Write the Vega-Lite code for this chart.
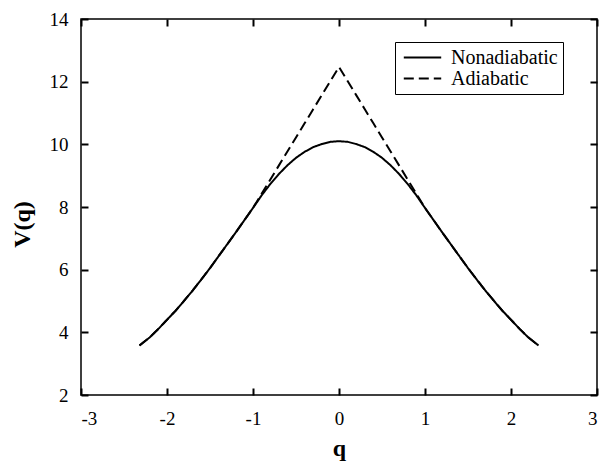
{
  "$schema": "https://vega.github.io/schema/vega-lite/v6.json",
  "width": 516,
  "height": 376,
  "autosize": "none",
  "padding": {"left": 81, "top": 19, "right": 4, "bottom": 66},
  "background": "white",
  "config": {
    "font": "Liberation Serif",
    "view": {"stroke": "black", "strokeWidth": 1.5},
    "axis": {
      "grid": false,
      "domain": false,
      "tickColor": "black",
      "tickWidth": 2,
      "tickSize": 7,
      "labelColor": "black",
      "labelFont": "Liberation Serif",
      "labelFontSize": 19,
      "titleColor": "black",
      "titleFont": "Liberation Serif",
      "titleFontSize": 24,
      "titleFontWeight": "bold"
    }
  },
  "data": {
    "values": [
      {"series": "Nonadiabatic", "q": -2.32, "V": 3.58},
      {"series": "Nonadiabatic", "q": -2.2, "V": 3.84},
      {"series": "Nonadiabatic", "q": -2.1, "V": 4.11},
      {"series": "Nonadiabatic", "q": -2.0, "V": 4.40},
      {"series": "Nonadiabatic", "q": -1.9, "V": 4.69},
      {"series": "Nonadiabatic", "q": -1.8, "V": 5.01},
      {"series": "Nonadiabatic", "q": -1.7, "V": 5.34},
      {"series": "Nonadiabatic", "q": -1.6, "V": 5.69},
      {"series": "Nonadiabatic", "q": -1.5, "V": 6.05},
      {"series": "Nonadiabatic", "q": -1.4, "V": 6.43},
      {"series": "Nonadiabatic", "q": -1.3, "V": 6.81},
      {"series": "Nonadiabatic", "q": -1.2, "V": 7.19},
      {"series": "Nonadiabatic", "q": -1.1, "V": 7.58},
      {"series": "Nonadiabatic", "q": -1.0, "V": 7.97},
      {"series": "Nonadiabatic", "q": -0.9, "V": 8.37},
      {"series": "Nonadiabatic", "q": -0.8, "V": 8.73},
      {"series": "Nonadiabatic", "q": -0.7, "V": 9.05},
      {"series": "Nonadiabatic", "q": -0.6, "V": 9.33},
      {"series": "Nonadiabatic", "q": -0.5, "V": 9.57},
      {"series": "Nonadiabatic", "q": -0.4, "V": 9.76},
      {"series": "Nonadiabatic", "q": -0.3, "V": 9.91},
      {"series": "Nonadiabatic", "q": -0.2, "V": 10.01},
      {"series": "Nonadiabatic", "q": -0.1, "V": 10.08},
      {"series": "Nonadiabatic", "q": 0.0, "V": 10.10},
      {"series": "Nonadiabatic", "q": 0.1, "V": 10.08},
      {"series": "Nonadiabatic", "q": 0.2, "V": 10.01},
      {"series": "Nonadiabatic", "q": 0.3, "V": 9.91},
      {"series": "Nonadiabatic", "q": 0.4, "V": 9.76},
      {"series": "Nonadiabatic", "q": 0.5, "V": 9.57},
      {"series": "Nonadiabatic", "q": 0.6, "V": 9.33},
      {"series": "Nonadiabatic", "q": 0.7, "V": 9.05},
      {"series": "Nonadiabatic", "q": 0.8, "V": 8.73},
      {"series": "Nonadiabatic", "q": 0.9, "V": 8.37},
      {"series": "Nonadiabatic", "q": 1.0, "V": 7.97},
      {"series": "Nonadiabatic", "q": 1.1, "V": 7.58},
      {"series": "Nonadiabatic", "q": 1.2, "V": 7.19},
      {"series": "Nonadiabatic", "q": 1.3, "V": 6.81},
      {"series": "Nonadiabatic", "q": 1.4, "V": 6.43},
      {"series": "Nonadiabatic", "q": 1.5, "V": 6.05},
      {"series": "Nonadiabatic", "q": 1.6, "V": 5.69},
      {"series": "Nonadiabatic", "q": 1.7, "V": 5.34},
      {"series": "Nonadiabatic", "q": 1.8, "V": 5.01},
      {"series": "Nonadiabatic", "q": 1.9, "V": 4.69},
      {"series": "Nonadiabatic", "q": 2.0, "V": 4.40},
      {"series": "Nonadiabatic", "q": 2.1, "V": 4.11},
      {"series": "Nonadiabatic", "q": 2.2, "V": 3.84},
      {"series": "Nonadiabatic", "q": 2.32, "V": 3.58},
      {"series": "Adiabatic", "q": -2.32, "V": 3.58},
      {"series": "Adiabatic", "q": -2.2, "V": 3.84},
      {"series": "Adiabatic", "q": -2.1, "V": 4.11},
      {"series": "Adiabatic", "q": -2.0, "V": 4.40},
      {"series": "Adiabatic", "q": -1.9, "V": 4.69},
      {"series": "Adiabatic", "q": -1.8, "V": 5.01},
      {"series": "Adiabatic", "q": -1.7, "V": 5.34},
      {"series": "Adiabatic", "q": -1.6, "V": 5.69},
      {"series": "Adiabatic", "q": -1.5, "V": 6.05},
      {"series": "Adiabatic", "q": -1.4, "V": 6.43},
      {"series": "Adiabatic", "q": -1.3, "V": 6.81},
      {"series": "Adiabatic", "q": -1.2, "V": 7.19},
      {"series": "Adiabatic", "q": -1.1, "V": 7.58},
      {"series": "Adiabatic", "q": -1.0, "V": 7.97},
      {"series": "Adiabatic", "q": -0.9, "V": 8.42},
      {"series": "Adiabatic", "q": -0.8, "V": 8.87},
      {"series": "Adiabatic", "q": -0.7, "V": 9.32},
      {"series": "Adiabatic", "q": -0.6, "V": 9.77},
      {"series": "Adiabatic", "q": -0.5, "V": 10.22},
      {"series": "Adiabatic", "q": -0.4, "V": 10.67},
      {"series": "Adiabatic", "q": -0.3, "V": 11.12},
      {"series": "Adiabatic", "q": -0.2, "V": 11.57},
      {"series": "Adiabatic", "q": -0.1, "V": 12.02},
      {"series": "Adiabatic", "q": 0.0, "V": 12.47},
      {"series": "Adiabatic", "q": 0.1, "V": 12.02},
      {"series": "Adiabatic", "q": 0.2, "V": 11.57},
      {"series": "Adiabatic", "q": 0.3, "V": 11.12},
      {"series": "Adiabatic", "q": 0.4, "V": 10.67},
      {"series": "Adiabatic", "q": 0.5, "V": 10.22},
      {"series": "Adiabatic", "q": 0.6, "V": 9.77},
      {"series": "Adiabatic", "q": 0.7, "V": 9.32},
      {"series": "Adiabatic", "q": 0.8, "V": 8.87},
      {"series": "Adiabatic", "q": 0.9, "V": 8.42},
      {"series": "Adiabatic", "q": 1.0, "V": 7.97},
      {"series": "Adiabatic", "q": 1.1, "V": 7.58},
      {"series": "Adiabatic", "q": 1.2, "V": 7.19},
      {"series": "Adiabatic", "q": 1.3, "V": 6.81},
      {"series": "Adiabatic", "q": 1.4, "V": 6.43},
      {"series": "Adiabatic", "q": 1.5, "V": 6.05},
      {"series": "Adiabatic", "q": 1.6, "V": 5.69},
      {"series": "Adiabatic", "q": 1.7, "V": 5.34},
      {"series": "Adiabatic", "q": 1.8, "V": 5.01},
      {"series": "Adiabatic", "q": 1.9, "V": 4.69},
      {"series": "Adiabatic", "q": 2.0, "V": 4.40},
      {"series": "Adiabatic", "q": 2.1, "V": 4.11},
      {"series": "Adiabatic", "q": 2.2, "V": 3.84},
      {"series": "Adiabatic", "q": 2.32, "V": 3.58}
    ]
  },
  "layer": [
    {
      "mark": {"type": "line", "color": "black", "strokeWidth": 2},
      "encoding": {
        "x": {
          "field": "q", "type": "quantitative",
          "scale": {"domain": [-3, 3], "nice": false, "zero": false},
          "axis": {
            "orient": "bottom",
            "values": [-3, -2, -1, 0, 1, 2, 3],
            "labelExpr": "datum.value < 0 ? '-' + abs(datum.value) : '' + datum.value",
            "ticks": false,
            "tickSize": 0,
            "labelPadding": 14,
            "title": "q",
            "titleY": 60,
            "titleBaseline": "alphabetic"
          }
        },
        "y": {
          "field": "V", "type": "quantitative",
          "scale": {"domain": [2, 14], "nice": false, "zero": false},
          "axis": {
            "orient": "left",
            "values": [2, 4, 6, 8, 10, 12, 14],
            "ticks": false,
            "tickSize": 0,
            "labelPadding": 13,
            "title": "V(q)",
            "titleX": -59,
            "titleY": 205,
            "titleAngle": -90,
            "titleAlign": "center",
            "titleBaseline": "middle"
          }
        },
        "strokeDash": {
          "field": "series", "type": "nominal",
          "scale": {"domain": ["Nonadiabatic", "Adiabatic"], "range": [[1, 0], [10, 5]]},
          "legend": {
            "title": null,
            "orient": "none",
            "legendX": 314,
            "legendY": 23,
            "direction": "vertical",
            "fillColor": "white",
            "strokeColor": "black",
            "padding": 5,
            "rowPadding": 0,
            "symbolType": "M-2,0H2",
            "symbolSize": 350,
            "symbolOffset": 12,
            "symbolStrokeWidth": 2,
            "symbolStrokeColor": "black",
            "symbolFillColor": "transparent",
            "labelOffset": 18,
            "labelFont": "Liberation Serif",
            "labelFontSize": 20,
            "labelColor": "black"
          }
        }
      }
    },
    {
      "mark": {"type": "line", "opacity": 0},
      "encoding": {
        "x": {
          "field": "q", "type": "quantitative",
          "axis": {"orient": "top", "offset": -376, "values": [-3, -2, -1, 0, 1, 2, 3], "labels": false, "title": null}
        },
        "y": {
          "field": "V", "type": "quantitative",
          "axis": {"orient": "right", "offset": -516, "values": [2, 4, 6, 8, 10, 12, 14], "labels": false, "title": null}
        },
        "detail": {"field": "series"}
      }
    },
    {
      "mark": {"type": "line", "opacity": 0},
      "encoding": {
        "x": {
          "field": "q", "type": "quantitative",
          "axis": {"orient": "bottom", "offset": -376, "values": [-3, -2, -1, 0, 1, 2, 3], "labels": false, "title": null}
        },
        "y": {
          "field": "V", "type": "quantitative",
          "axis": {"orient": "left", "offset": -516, "values": [2, 4, 6, 8, 10, 12, 14], "labels": false, "title": null}
        },
        "detail": {"field": "series"}
      }
    }
  ],
  "resolve": {"axis": {"x": "independent", "y": "independent"}}
}
